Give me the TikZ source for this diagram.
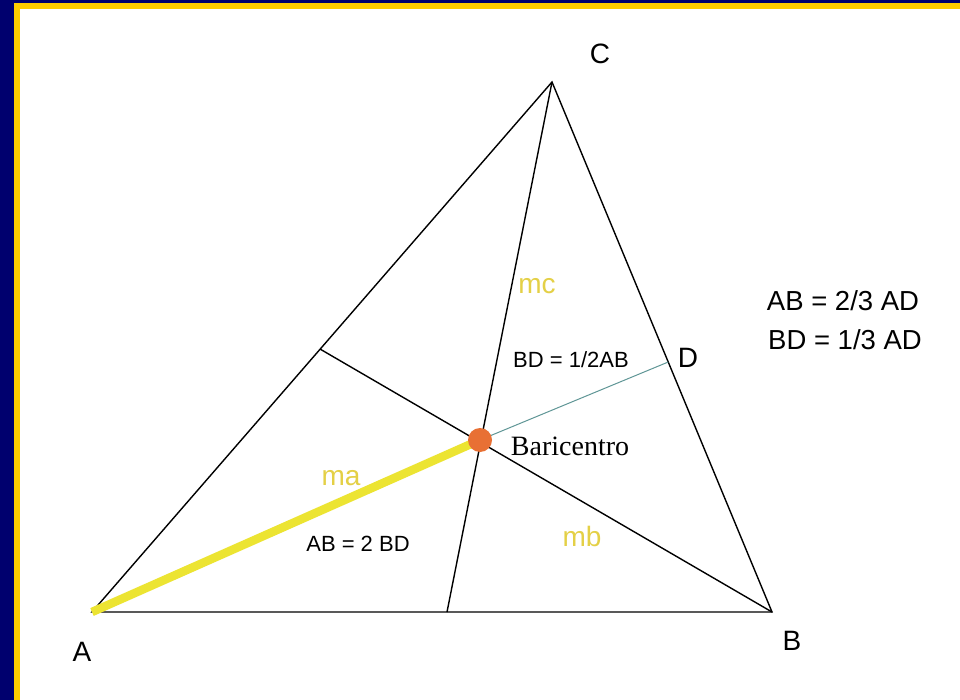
\documentclass[tikz,border=0pt]{standalone}
\usepackage{fontspec}
\setmainfont{Liberation Sans}
\newfontfamily\serifface{Liberation Serif}
\usetikzlibrary{calc}
\definecolor{bgblue}{RGB}{0,0,110}
\definecolor{bordery}{RGB}{255,204,0}
\definecolor{medlbl}{RGB}{228,208,70}
\definecolor{hilite}{RGB}{236,228,50}
\definecolor{tealline}{RGB}{95,150,150}
\definecolor{dotorange}{RGB}{232,112,52}
\begin{document}
\begin{tikzpicture}[x=1pt,y=-1pt,
  edge/.style={line width=1.4pt, black},
  vlbl/.style={inner sep=0pt, font=\fontsize{28}{28}\selectfont},
  mlbl/.style={inner sep=0pt, text=medlbl, font=\fontsize{28}{28}\selectfont},
  eqbig/.style={inner sep=0pt, font=\fontsize{27.5}{27.5}\selectfont},
  eqsmall/.style={inner sep=0pt, font=\fontsize{22}{22}\selectfont}]
\useasboundingbox (0,0) rectangle (960,700);
\fill[bgblue] (0,0) rectangle (960,700);
\fill[bordery] (14,3) rectangle (960,700);
\fill[white] (20,9) rectangle (960,700);
% vertices
\coordinate (A) at (92,612);
\coordinate (B) at (772,612);
\coordinate (C) at (552,82);
\coordinate (MAC) at ($(A)!0.496!(C)$);
\coordinate (MAB) at (447,612);
\coordinate (D) at ($(B)!0.4717!(C)$);
\coordinate (G) at (480,440);
% triangle
\draw[edge] (A) -- (B) -- (C) -- cycle;
% medians
\draw[edge] (C) -- (MAB);
\draw[edge] (B) -- (MAC);
\draw[line width=8.5pt, hilite] (A) -- (G);
\draw[line width=1pt, tealline] (G) -- (D);
\fill[dotorange] (G) circle (12);
% labels
\node[vlbl] (lA) at (82,652) {A};
\node[vlbl] (lB) at (792,641) {B};
\node[vlbl] (lC) at (600,54) {C};
\node[vlbl] (lD) at (688,358) {D};
\node[mlbl] (lmc) at (537,286) {mc};
\node[mlbl] (lma) at (341,478) {ma};
\node[mlbl] (lmb) at (582,536) {mb};
\node[inner sep=0pt, font=\serifface\fontsize{28}{28}\selectfont] (bar) at (570,446) {Baricentro};
\node[eqsmall] (e1) at (571,360) {BD = 1/2AB};
\node[eqsmall] (e2) at (358,544) {AB = 2 BD};
\node[eqbig] (e3) at (843,301) {AB = 2/3 AD};
\node[eqbig] (e4) at (845,340) {BD = 1/3 AD};
\end{tikzpicture}
\end{document}
